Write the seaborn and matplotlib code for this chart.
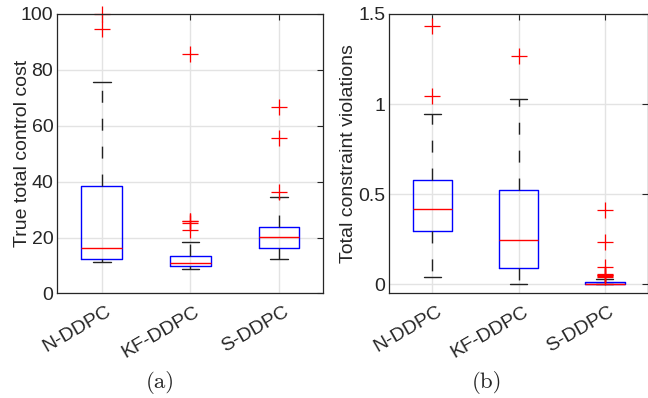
import numpy as np
import pandas as pd
import matplotlib
matplotlib.use("Agg")
import matplotlib.pyplot as plt
import matplotlib.transforms as mtransforms
import seaborn as sns

methods = ["N-DDPC", "KF-DDPC", "S-DDPC"]

# (a) True total control cost, samples
cost_n = [11.1, 11.8, 12.1, 12.4, 13.5, 15.0, 16.4, 22.0, 30.0, 38.4, 75.5, 94.5, 100.0]
cost_kf = [8.6, 8.9, 9.1, 9.3, 9.5, 9.7, 9.8, 10.0, 10.2, 10.4, 10.5, 10.6, 10.75,
           11.2, 11.8, 12.3, 12.8, 13.2, 13.5, 18.4, 22.7, 25.3, 25.8, 26.1, 85.8]
cost_s = [12.5, 13.5, 14.5, 15.5, 16.2, 17.2, 18.3, 19.2, 20.1, 21.0, 22.0, 23.0,
          23.9, 34.5, 36.3, 55.6, 66.6]

# (b) Total constraint violations
viol_n = [0.044, 0.15, 0.23, 0.296, 0.34, 0.38, 0.419, 0.47, 0.53, 0.578, 0.948, 1.043, 1.431]
viol_kf = [0.0, 0.05, 0.094, 0.17, 0.248, 0.38, 0.522, 1.030, 1.267]
viol_s = [0.0] * 10 + [0.001, 0.001, 0.002, 0.002, 0.002, 0.003, 0.003, 0.003, 0.004,
                       0.005, 0.006, 0.007, 0.008, 0.009, 0.010, 0.012, 0.014, 0.015,
                       0.032, 0.040, 0.045, 0.050, 0.055, 0.060, 0.098, 0.233, 0.415]

cost_ticks = [0, 20, 40, 60, 80, 100]
cost_labels = ["0", "20", "40", "60", "80", "100"]
viol_ticks = [0, 0.5, 1, 1.5]
viol_labels = ["0", "0.5", "1", "1.5"]


def long_frame(groups):
    rows = []
    for m, vals in zip(methods, groups):
        for v in vals:
            rows.append({"method": m, "value": v})
    return pd.DataFrame(rows)


df_cost = long_frame([cost_n, cost_kf, cost_s])
df_viol = long_frame([viol_n, viol_kf, viol_s])

sns.set_theme(style="white")
plt.rcParams["font.family"] = ["Liberation Sans", "DejaVu Sans"]
plt.rcParams["text.color"] = "#262626"
plt.rcParams["axes.labelcolor"] = "#262626"

fig = plt.figure(figsize=(6.48, 3.98), dpi=100)
ax1 = fig.add_axes([0.0887, 0.2626, 0.4102, 0.7023])
ax2 = fig.add_axes([0.6008, 0.2626, 0.3989, 0.7023])


def draw(ax, df, ylim, ticks, labels, ylabel, label_x):
    sns.boxplot(
        data=df, x="method", y="value", order=methods, ax=ax,
        width=0.46, whis=1.5, fill=False, linewidth=1.0, color="blue",
        linecolor="black",
        boxprops=dict(color="blue", linewidth=1.0),
        medianprops=dict(color="red", linewidth=1.0),
        whiskerprops=dict(color="#222222", linewidth=1.0, linestyle=(0, (8.6, 11.5))),
        capprops=dict(color="#222222", linewidth=1.0),
        flierprops=dict(marker="+", markeredgecolor="red", markerfacecolor="red",
                        markersize=11, markeredgewidth=0.9, linestyle="none"),
        capwidths=0.2,
    )
    for ln in ax.lines:
        ln.set_clip_on(False)
    ax.set_axisbelow(True)
    ax.grid(True, axis="both", color="#e3e3e3", linewidth=1.0)
    ax.set_xlim(-0.5, 2.5)
    ax.set_ylim(*ylim)
    ax.set_yticks(ticks)
    ax.set_yticklabels(labels)
    ax.set_xlabel("")
    ax.set_ylabel(ylabel, fontsize=14)
    ax.yaxis.set_label_coords(label_x, 0.5)
    ax.tick_params(direction="in", top=True, right=True, length=4, width=0.8,
                   color="#262626", labelsize=14, labelcolor="#262626", pad=3)
    ax.tick_params(axis="x", pad=7)
    shift = mtransforms.ScaledTranslation(4 / 100, 0, fig.dpi_scale_trans)
    for lab in ax.get_xticklabels():
        lab.set_rotation(30)
        lab.set_ha("right")
        lab.set_rotation_mode("anchor")
        lab.set_transform(lab.get_transform() + shift)
    for sp in ax.spines.values():
        sp.set_visible(True)
        sp.set_color("#262626")
        sp.set_linewidth(0.9)


draw(ax1, df_cost, (0, 100), cost_ticks, cost_labels, "True total control cost", -0.10)
draw(ax2, df_viol, (-0.05, 1.5), viol_ticks, viol_labels, "Total constraint violations", -0.125)

fig.text(160 / 648, 1 - 382 / 398, "(a)", family="cmr10", fontsize=16.5, ha="center", va="center")
fig.text(487 / 648, 1 - 382 / 398, "(b)", family="cmr10", fontsize=16.5, ha="center", va="center")

fig.savefig("out.png", dpi=100)
